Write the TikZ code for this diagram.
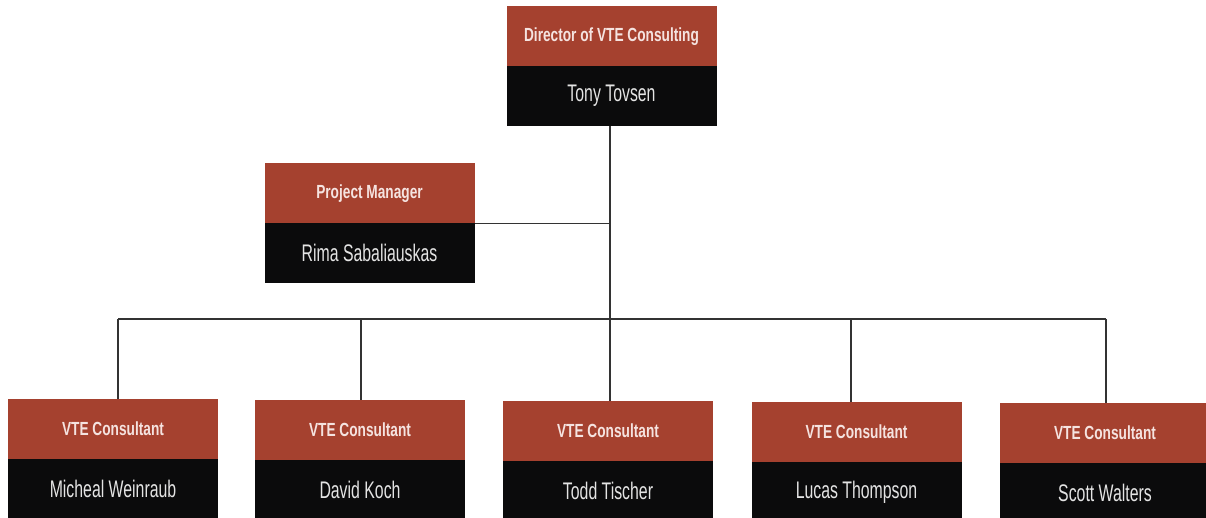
\documentclass[tikz,border=0pt]{standalone}
\usepackage{fontspec}
\setmainfont[FakeStretch=0.66]{Liberation Sans}
\newfontfamily\rolefont[FakeStretch=0.72]{Liberation Sans}
\definecolor{boxred}{HTML}{A5412F}
\definecolor{boxblack}{HTML}{0B0B0C}
\definecolor{txtlight}{HTML}{F5E3E0}
\definecolor{namec}{HTML}{E4E4E4}
\definecolor{linec}{HTML}{333333}
\tikzset{
  rolebox/.style={rectangle, fill=boxred, inner sep=0pt, minimum width=210pt, minimum height=60pt,
    text=txtlight, font=\rolefont\fontsize{19}{20}\selectfont\bfseries, anchor=north},
  namebox/.style={rectangle, fill=boxblack, inner sep=0pt, minimum width=210pt, minimum height=60pt,
    text=namec, font=\fontsize{24}{26}\selectfont, anchor=north},
  conn/.style={draw=linec, line width=1.4pt}
}
\begin{document}
\begin{tikzpicture}[x=1pt,y=-1pt]
\useasboundingbox (0,0) rectangle (1206,518);
\clip (0,0) rectangle (1206,518);
% director
\node[rolebox] (dirt) at (611.5,6) {Director of VTE Consulting};
\node[namebox] (dirn) at ([yshift=0.8pt]dirt.south) {Tony Tovsen};
% project manager
\node[rolebox] (pmt) at (369.5,163) {Project Manager};
\node[namebox] (pmn) at ([yshift=0.8pt]pmt.south) {Rima Sabaliauskas};
% consultants
\node[rolebox] (c1t) at (113,399) {VTE Consultant};
\node[namebox] (c1n) at ([yshift=0.8pt]c1t.south) {Micheal Weinraub};
\node[rolebox] (c2t) at (360,400) {VTE Consultant};
\node[namebox] (c2n) at ([yshift=0.8pt]c2t.south) {David Koch};
\node[rolebox] (c3t) at (608,401) {VTE Consultant};
\node[namebox] (c3n) at ([yshift=0.8pt]c3t.south) {Todd Tischer};
\node[rolebox] (c4t) at (856.5,402) {VTE Consultant};
\node[namebox] (c4n) at ([yshift=0.8pt]c4t.south) {Lucas Thompson};
\node[rolebox] (c5t) at (1105,403) {VTE Consultant};
\node[namebox] (c5n) at ([yshift=0.8pt]c5t.south) {Scott Walters};
% connectors
\coordinate (trunk) at (610,319);
\coordinate (b1) at (118,319);
\coordinate (b2) at (361,319);
\coordinate (b4) at (851,319);
\coordinate (b5) at (1106,319);
\draw[conn] (dirn.south -| trunk) -- (trunk);
\draw[conn] (pmt.south east) -- (pmt.south east -| trunk);
\draw[conn] (b1) -- (b5);
\draw[conn] (b1) -- (b1 |- c1t.north);
\draw[conn] (b2) -- (b2 |- c2t.north);
\draw[conn] (trunk) -- (trunk |- c3t.north);
\draw[conn] (b4) -- (b4 |- c4t.north);
\draw[conn] (b5) -- (b5 |- c5t.north);
\end{tikzpicture}
\end{document}
